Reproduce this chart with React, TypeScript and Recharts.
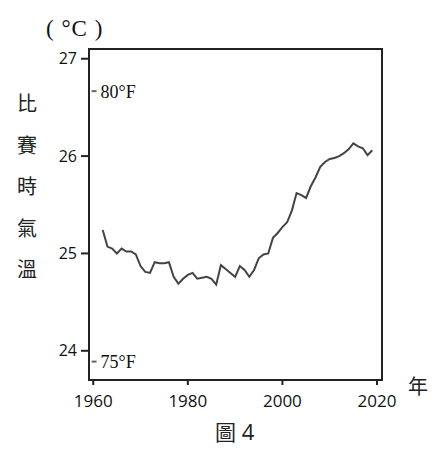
import React from 'react';
import { LineChart, Line, XAxis, YAxis, ReferenceArea, ReferenceLine } from 'recharts';

// annual race-time temperature (°C)
const years = [
  1962, 1963, 1964, 1965, 1966, 1967, 1968, 1969, 1970, 1971,
  1972, 1973, 1974, 1975, 1976, 1977, 1978, 1979, 1980, 1981,
  1982, 1983, 1984, 1985, 1986, 1987, 1988, 1989, 1990, 1991,
  1992, 1993, 1994, 1995, 1996, 1997, 1998, 1999, 2000, 2001,
  2002, 2003, 2004, 2005, 2006, 2007, 2008, 2009, 2010, 2011,
  2012, 2013, 2014, 2015, 2016, 2017, 2018, 2019,
];
const temps = [
  25.24, 25.07, 25.05, 25.0, 25.05, 25.02, 25.02, 24.99, 24.87, 24.81,
  24.8, 24.91, 24.9, 24.9, 24.91, 24.76, 24.69, 24.74, 24.78, 24.8,
  24.74, 24.75, 24.76, 24.74, 24.68, 24.88, 24.84, 24.8, 24.76, 24.87,
  24.83, 24.76, 24.83, 24.95, 24.99, 25.0, 25.16, 25.21, 25.27, 25.32,
  25.44, 25.62, 25.6, 25.57, 25.69, 25.78, 25.89, 25.94, 25.97, 25.98,
  26.0, 26.03, 26.07, 26.13, 26.1, 26.08, 26.01, 26.06,
];
const xTicks = [1960, 1980, 2000, 2020];
const yTicks = [24, 25, 26, 27];
const yLabelChars = ['比', '賽', '時', '氣', '溫'];
const fahrenheitMarks = [
  { label: '80°F', c: 26.667 },
  { label: '75°F', c: 23.889 },
];

const X_MIN = 1959.1;
const X_MAX = 2021.06;
const Y_MIN = 23.7;
const Y_MAX = 27.1;

const data = years.map((year, i) => ({ year, temp: temps[i] }));

const INK = '#222';
const SANS = '"Open Sans", "Liberation Sans", sans-serif';
const SERIF = '"Liberation Serif", "DejaVu Serif", serif';
const CJK = '"Noto Sans CJK TC", sans-serif';

export default function App() {
  return (
    <div style={{ position: 'absolute', left: 0, top: 0, width: 447, height: 460, background: '#fff' }}>
      <LineChart
        width={447}
        height={460}
        data={data}
        margin={{ top: 49, right: 65, bottom: 50, left: 29 }}
      >
        <XAxis
          dataKey="year"
          type="number"
          domain={[X_MIN, X_MAX]}
          ticks={xTicks}
          allowDataOverflow
          height={30}
          tickSize={5}
          tickMargin={10}
          axisLine={{ stroke: INK, strokeWidth: 2 }}
          tickLine={{ stroke: INK, strokeWidth: 2 }}
          tick={{ fill: '#111', fontSize: 17, fontFamily: SANS }}
        />
        <YAxis
          type="number"
          domain={[Y_MIN, Y_MAX]}
          ticks={yTicks}
          allowDataOverflow
          width={60}
          tickSize={8}
          tickMargin={4}
          axisLine={{ stroke: INK, strokeWidth: 2 }}
          tickLine={{ stroke: INK, strokeWidth: 2 }}
          tick={{ fill: '#111', fontSize: 16, fontFamily: SANS }}
        />
        <ReferenceArea
          x1={X_MIN}
          x2={X_MAX}
          y1={Y_MIN}
          y2={Y_MAX}
          fill="none"
          stroke={INK}
          strokeWidth={2}
          ifOverflow="visible"
        />
        {fahrenheitMarks.map((m) => (
          <ReferenceLine
            key={m.label}
            segment={[
              { x: X_MIN + 0.55, y: m.c },
              { x: X_MIN + 1.6, y: m.c },
            ]}
            stroke="#666"
            strokeWidth={2}
            label={{
              value: m.label,
              position: 'right',
              offset: 4,
              fill: '#111',
              fontSize: 18,
              fontFamily: SERIF,
            }}
          />
        ))}
        <Line
          type="linear"
          dataKey="temp"
          stroke="#444"
          strokeWidth={2}
          dot={false}
          isAnimationActive={false}
        />
      </LineChart>

      <div style={{ position: 'absolute', left: 46, top: 16, fontFamily: SERIF, fontSize: 23, letterSpacing: 1, color: '#111', whiteSpace: 'pre' }}>
        ( °C )
      </div>
      {yLabelChars.map((ch, i) => (
        <div
          key={ch}
          style={{ position: 'absolute', left: 17, top: 92 + i * 41.5, fontFamily: CJK, fontSize: 20, lineHeight: '22px', color: '#222' }}
        >
          {ch}
        </div>
      ))}
      <div style={{ position: 'absolute', left: 408, top: 374, fontFamily: CJK, fontSize: 20, lineHeight: '24px', color: '#222' }}>
        年
      </div>
      <div style={{ position: 'absolute', left: 215, top: 418, fontFamily: CJK, fontSize: 21, lineHeight: '26px', color: '#222', whiteSpace: 'pre' }}>
        圖<span style={{ fontFamily: SANS, fontSize: 22 }}> 4</span>
      </div>
    </div>
  );
}
